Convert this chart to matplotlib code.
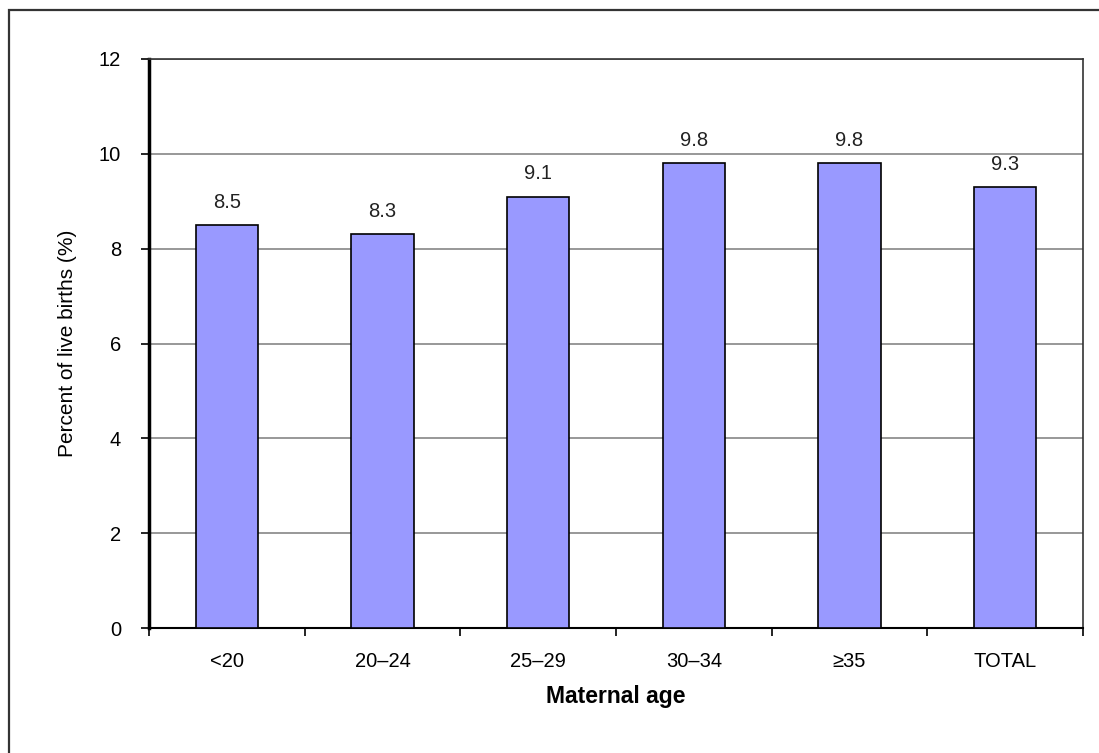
import matplotlib.pyplot as plt
from matplotlib.patches import Rectangle

plt.rcParams['font.family'] = ['Liberation Sans', 'DejaVu Sans']

# Data
age_groups = ['<20', '20\u201324', '25\u201329', '30\u201334', '\u226535', 'TOTAL']
percent_births = [8.5, 8.3, 9.1, 9.8, 9.8, 9.3]
y_ticks = [0, 2, 4, 6, 8, 10, 12]

fig = plt.figure(figsize=(10.99, 7.53), dpi=100)
ax = fig.add_axes([149 / 1099, 1 - 628 / 753, (1083 - 149) / 1099, (628 - 59) / 753])

# outer frame of the chart
fig.patches.append(Rectangle((9 / 1099, -0.1), 1.2, 1 - 10 / 753 + 0.1,
                             transform=fig.transFigure, fill=False,
                             edgecolor='#333333', linewidth=1.6))

x = range(len(age_groups))
bars = ax.bar(x, percent_births, width=0.4, color='#9999FF',
              edgecolor='black', linewidth=1.2, zorder=3)

for xi, v in zip(x, percent_births):
    ax.text(xi, v + 0.28, f'{v:.1f}', ha='center', va='bottom',
            fontsize=14.5, color='#222222')

ax.set_xlim(-0.5, len(age_groups) - 0.5)
ax.set_ylim(0, 12)
ax.set_yticks(y_ticks)
ax.yaxis.grid(True, color='#909090', linewidth=1.3, zorder=0)
ax.set_axisbelow(True)

# ticks at category boundaries, labels centred
ax.set_xticks([i + 0.5 for i in range(-1, len(age_groups))], minor=False)
ax.set_xticklabels([])
ax.set_xticks(list(x), minor=True)
ax.set_xticklabels(age_groups, minor=True, fontsize=14.5)
ax.tick_params(axis='x', which='minor', length=0, pad=17)
ax.tick_params(axis='x', which='major', length=6, width=1.2, direction='out')
ax.tick_params(axis='y', length=6, width=1.2, direction='out', labelsize=14.5, pad=14)

ax.spines['left'].set_linewidth(2.5)
ax.spines['bottom'].set_linewidth(1.5)
ax.spines['top'].set_linewidth(1.2)
ax.spines['right'].set_linewidth(1.2)
ax.spines['top'].set_color('#333333')
ax.spines['right'].set_color('#333333')

ax.set_xlabel('Maternal age', fontsize=16.5, fontweight='bold', labelpad=10)
ax.set_ylabel('Percent of live births (%)', fontsize=15, labelpad=16)

fig.savefig('out.png', dpi=100)
